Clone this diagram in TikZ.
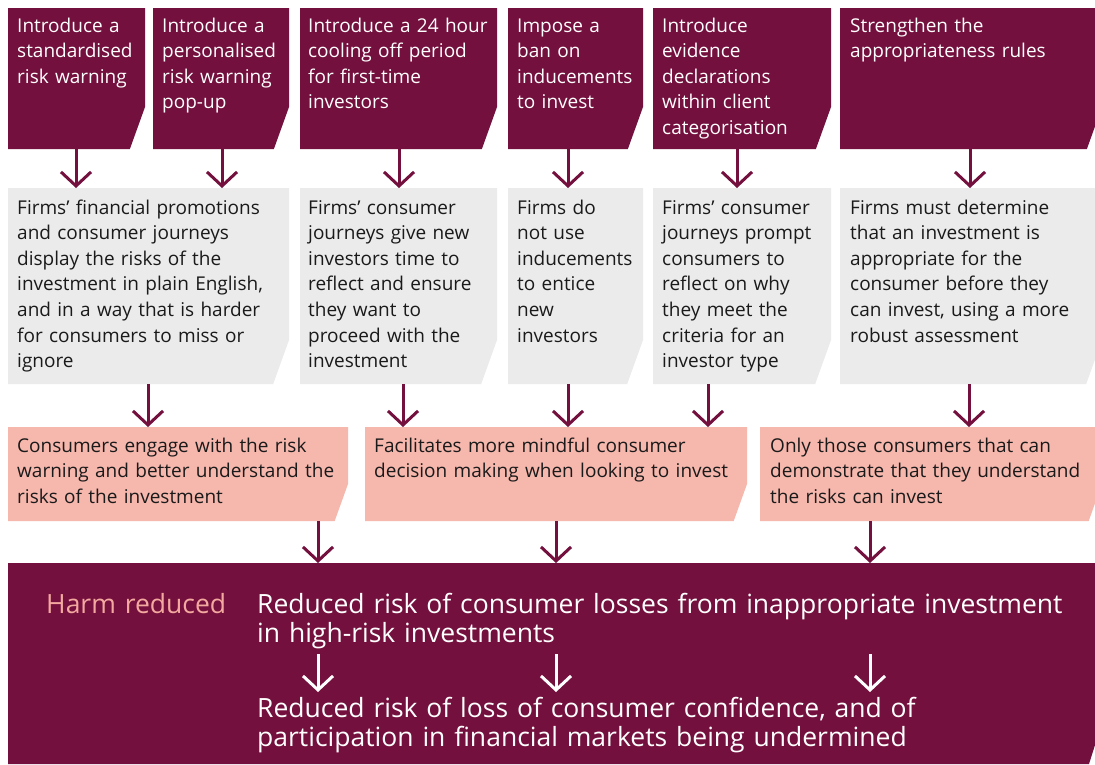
\documentclass[tikz,border=0pt]{standalone}
\usepackage{fontspec}
\setmainfont{Open Sans}
\usetikzlibrary{arrows.meta,backgrounds}
\definecolor{maroon}{HTML}{74103D}
\definecolor{greybox}{HTML}{EBEBEB}
\definecolor{pinkbox}{HTML}{F6B7AD}
\definecolor{pinktext}{HTML}{F3A9A0}
\definecolor{darktext}{HTML}{1A1A1A}
\newcommand\cutbox[7]{%
  \node[inner sep=0pt, outer sep=0pt, minimum width=#4pt, minimum height=#5pt, anchor=north west] (#1) at (#2,#3) {};
  \fill[#6] (#1.north west) -- (#1.north east) -- ([yshift=#7pt]#1.south east) -- ([xshift={-0.36*#7}]#1.south east) -- (#1.south west) -- cycle;
}
\tikzset{
  smalltxt/.style={inner sep=0pt, anchor=base west, align=left, text width=#1pt, font=\fontsize{19}{25.6}\selectfont},
  toptxt/.style={smalltxt=#1, text=white},
  boxtxt/.style={smalltxt=#1, text=darktext},
  bigtxt/.style={inner sep=0pt, anchor=base west, align=left, text width=#1pt, font=\fontsize{26.5}{29}\selectfont},
  arr/.style={draw=maroon, line width=3pt, -{Straight Barb[length=14pt,width=30pt,line width=3pt]}},
  warr/.style={arr, draw=white},
}
\begin{document}
\begin{tikzpicture}[x=1pt,y=-1pt]
\clip (0,0) rectangle (1095,764);
\fill[white] (0,0) rectangle (1095,764);
% top row
\cutbox{t1}{8}{8}{137}{141}{maroon}{42}
\cutbox{t2}{153}{8}{136}{141}{maroon}{42}
\cutbox{t3}{300}{8}{197}{141}{maroon}{42}
\cutbox{t4}{508}{8}{135}{141}{maroon}{42}
\cutbox{t5}{653}{8}{178}{141}{maroon}{42}
\cutbox{t6}{840}{8}{262}{141}{maroon}{42}
\node[toptxt=125] (t1t) at (17,32) {Introduce a\\standardised\\risk warning};
\node[toptxt=125] (t2t) at (162,32) {Introduce a\\personalised\\risk warning\\pop-up};
\node[toptxt=185] (t3t) at (308,32) {Introduce a 24 hour\\cooling off period\\for first-time\\investors};
\node[toptxt=125] (t4t) at (517,32) {Impose a\\ban on\\inducements\\to invest};
\node[toptxt=165] (t5t) at (662,32) {Introduce\\evidence\\declarations\\within client\\categorisation};
\node[toptxt=240] (t6t) at (850,32) {Strengthen the\\appropriateness rules};
% grey row
\cutbox{g1}{8}{188}{281}{196}{greybox}{44}
\cutbox{g2}{300}{188}{197}{196}{greybox}{44}
\cutbox{g3}{508}{188}{135}{196}{greybox}{44}
\cutbox{g4}{653}{188}{178}{196}{greybox}{44}
\cutbox{g5}{840}{188}{262}{196}{greybox}{44}
\node[boxtxt=270] (g1t) at (17,214) {Firms’ financial promotions\\and consumer journeys\\display the risks of the\\investment in plain English,\\and in a way that is harder\\for consumers to miss or\\ignore};
\node[boxtxt=185] (g2t) at (308,214) {Firms’ consumer\\journeys give new\\investors time to\\reflect and ensure\\they want to\\proceed with the\\investment};
\node[boxtxt=125] (g3t) at (517,214) {Firms do\\not use\\inducements\\to entice\\new\\investors};
\node[boxtxt=165] (g4t) at (662,214) {Firms’ consumer\\journeys prompt\\consumers to\\reflect on why\\they meet the\\criteria for an\\investor type};
\node[boxtxt=240] (g5t) at (850,214) {Firms must determine\\that an investment is\\appropriate for the\\consumer before they\\can invest, using a more\\robust assessment};
% pink row
\cutbox{p1}{8}{427}{340}{94}{pinkbox}{37}
\cutbox{p2}{365}{427}{382}{94}{pinkbox}{37}
\cutbox{p3}{760}{427}{342}{94}{pinkbox}{37}
\node[boxtxt=330] (p1t) at (17,452) {Consumers engage with the risk\\warning and better understand the\\risks of the investment};
\node[boxtxt=370] (p2t) at (374,452) {Facilitates more mindful consumer\\decision making when looking to invest};
\node[boxtxt=330] (p3t) at (770,452) {Only those consumers that can\\demonstrate that they understand\\the risks can invest};
% bottom
\node[inner sep=0pt, outer sep=0pt, minimum width=1087pt, minimum height=201pt, anchor=north west] (hb) at (8,563) {};
\fill[maroon] (hb.north west) -- (hb.north east) -- ([yshift=19pt]hb.south east) -- ([xshift=-6pt]hb.south east) -- (hb.south west) -- cycle;
\node[bigtxt=200, text=pinktext] (hr) at (46,613) {Harm reduced};
\node[bigtxt=830, text=white] (r1) at (257,613) {Reduced risk of consumer losses from inappropriate investment\\in high-risk investments};
\node[bigtxt=830, text=white] (r2) at (257,717) {Reduced risk of loss of consumer confidence, and of\\participation in financial markets being undermined};
% arrow x positions
\foreach \n/\x in {a1/76,a2/222,a3/399,a4/568,a5/737,a6/970,b1/148,b2/403,b3/568,b4/708,b5/969,c1/318,c2/556,c3/870}{\coordinate (\n) at (\x,0);}
\draw[arr] (t1.south -| a1) -- (g1.north -| a1);
\draw[arr] (t2.south -| a2) -- (g1.north -| a2);
\draw[arr] (t3.south -| a3) -- (g2.north -| a3);
\draw[arr] (t4.south -| a4) -- (g3.north -| a4);
\draw[arr] (t5.south -| a5) -- (g4.north -| a5);
\draw[arr] (t6.south -| a6) -- (g5.north -| a6);
\draw[arr] (g1.south -| b1) -- (p1.north -| b1);
\draw[arr] (g2.south -| b2) -- (p2.north -| b2);
\draw[arr] (g3.south -| b3) -- (p2.north -| b3);
\draw[arr] (g4.south -| b4) -- (p2.north -| b4);
\draw[arr] (g5.south -| b5) -- (p3.north -| b5);
\draw[arr] (p1.south -| c1) -- (hb.north -| c1);
\draw[arr] (p2.south -| c2) -- (hb.north -| c2);
\draw[arr] (p3.south -| c3) -- (hb.north -| c3);
\coordinate (w1) at (0,654);
\coordinate (w2) at (0,692);
\draw[warr] (w1 -| c1) -- (w2 -| c1);
\draw[warr] (w1 -| c2) -- (w2 -| c2);
\draw[warr] (w1 -| c3) -- (w2 -| c3);
\end{tikzpicture}
\end{document}
